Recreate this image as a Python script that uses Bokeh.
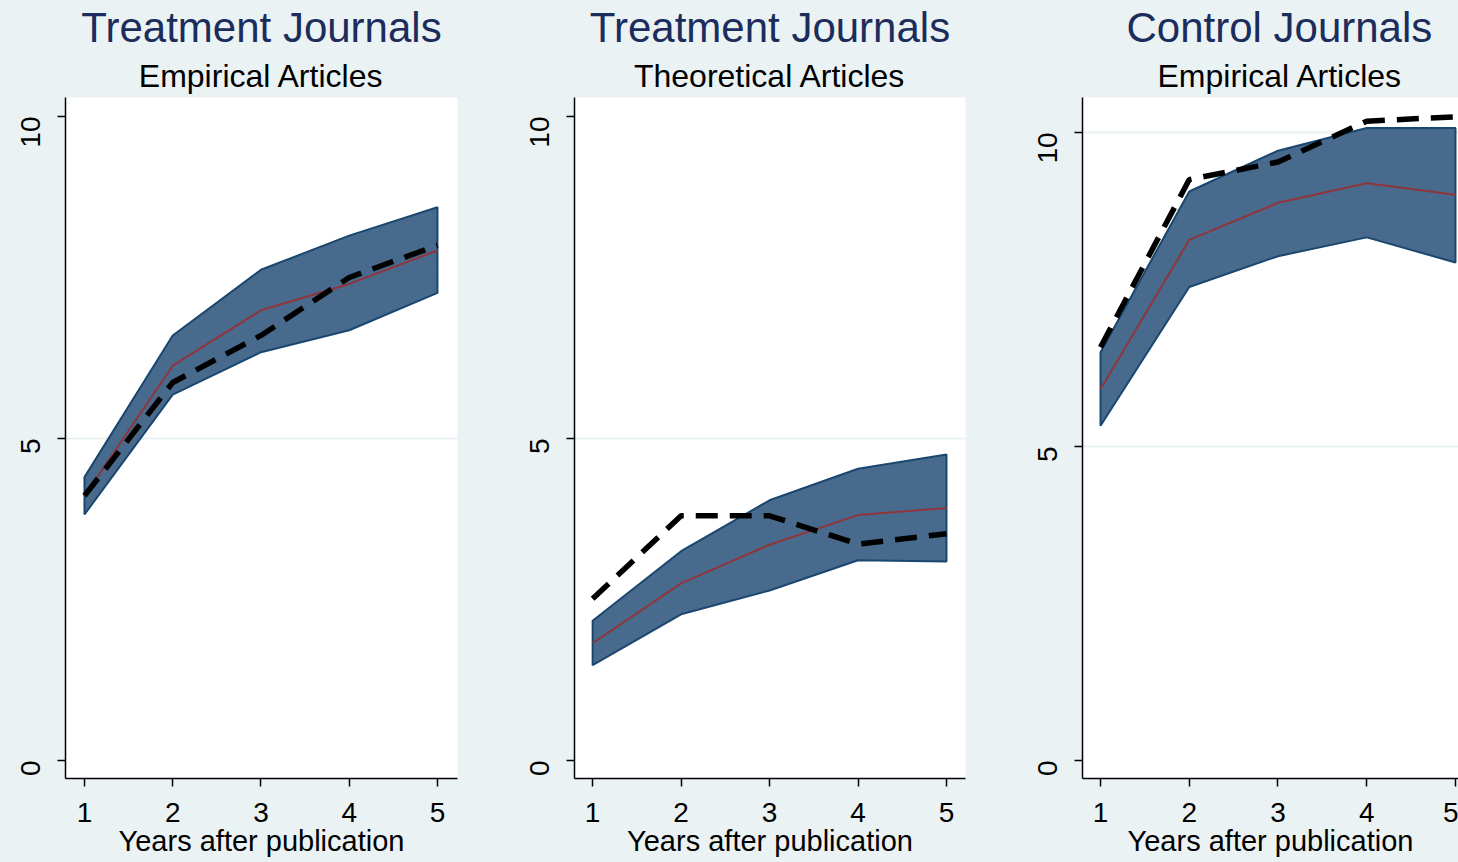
from bokeh.plotting import figure
from bokeh.layouts import row
from bokeh.models import Title, FixedTicker, Range1d
from bokeh.embed import file_html
from bokeh.resources import INLINE
import math

years = [1, 2, 3, 4, 5]
x_ticks = [1, 2, 3, 4, 5]
y_ticks = [0, 5, 10]

titles = ["Treatment Journals", "Treatment Journals", "Control Journals"]
subtitles = ["Empirical Articles", "Theoretical Articles", "Empirical Articles"]
x_label = "Years after publication"

# Panel 1: Treatment journals, empirical articles
p1_upper = [4.40, 6.60, 7.62, 8.15, 8.59]
p1_lower = [3.82, 5.68, 6.34, 6.68, 7.26]
p1_pred = [4.11, 6.13, 6.99, 7.40, 7.92]
p1_actual = [4.11, 5.87, 6.60, 7.50, 8.00]

# Panel 2: Treatment journals, theoretical articles
p2_upper = [2.17, 3.25, 4.04, 4.53, 4.75]
p2_lower = [1.48, 2.27, 2.64, 3.11, 3.09]
p2_pred = [1.82, 2.75, 3.35, 3.81, 3.92]
p2_actual = [2.51, 3.80, 3.80, 3.36, 3.52]

# Panel 3: Control journals, empirical articles
p3_upper = [6.50, 9.06, 9.71, 10.07, 10.07]
p3_lower = [5.33, 7.54, 8.03, 8.33, 7.93]
p3_pred = [5.91, 8.29, 8.88, 9.19, 9.01]
p3_actual = [6.58, 9.25, 9.53, 10.18, 10.25]

BG = "#EAF2F3"
TITLE_COLOR = "#1c2c5c"
BAND_FILL = "#486a8c"
BAND_LINE = "#1a476f"
RED = "#90353b"
FONT = "Liberation Sans"


def make_panel(title, subtitle, upper, lower, pred, actual, width, left, right,
               xr, yr, grid_ticks, title_offsets=None):
    p = figure(width=width, height=862, output_backend="svg", toolbar_location=None,
               x_range=Range1d(*xr), y_range=Range1d(*yr),
               min_border_left=left, min_border_right=right,
               min_border_top=97, min_border_bottom=84)
    p.background_fill_color = "white"
    p.border_fill_color = BG
    p.outline_line_color = None

    if title_offsets is None:
        sub = Title(text=subtitle, align="center", text_font=FONT, text_font_size="32px",
                    text_color="black", text_font_style="normal", standoff=7)
        main = Title(text=title, align="center", text_font=FONT, text_font_size="42px",
                     text_color=TITLE_COLOR, text_font_style="normal", standoff=3)
    else:
        sub = Title(text=subtitle, align="left", offset=title_offsets[1], text_font=FONT,
                    text_font_size="32px", text_color="black", text_font_style="normal", standoff=7)
        main = Title(text=title, align="left", offset=title_offsets[0], text_font=FONT,
                     text_font_size="42px", text_color=TITLE_COLOR, text_font_style="normal", standoff=3)
    p.add_layout(sub, "above")
    p.add_layout(main, "above")

    # band
    xs = years + years[::-1]
    ys = list(upper) + list(lower)[::-1]
    p.patch(xs, ys, fill_color=BAND_FILL, line_color=BAND_LINE, line_width=2)
    p.line(years, pred, line_color=RED, line_width=2)
    p.line(years, actual, line_color="black", line_width=5.5, line_dash="22 12")

    p.xgrid.visible = False
    p.ygrid.ticker = FixedTicker(ticks=grid_ticks)
    p.ygrid.grid_line_color = BG
    p.ygrid.grid_line_width = 2

    for ax in (p.xaxis[0], p.yaxis[0]):
        ax.axis_line_color = "black"
        ax.axis_line_width = 1.5
        ax.major_tick_line_color = "black"
        ax.major_tick_line_width = 1.5
        ax.major_tick_in = 0
        ax.major_tick_out = 8
        ax.minor_tick_line_color = None
        ax.major_label_text_font = FONT
        ax.major_label_text_font_size = "28px"
        ax.major_label_text_color = "black"

    p.xaxis.ticker = FixedTicker(ticks=x_ticks)
    p.xaxis.axis_label = x_label
    p.xaxis.axis_label_text_font = FONT
    p.xaxis.axis_label_text_font_size = "29px"
    p.xaxis.axis_label_text_font_style = "normal"
    p.xaxis.axis_label_text_color = "black"
    p.xaxis.major_label_standoff = 16
    p.xaxis.axis_label_standoff = 0

    p.yaxis.ticker = FixedTicker(ticks=y_ticks)
    p.yaxis.major_label_orientation = math.pi / 2
    p.yaxis.major_label_standoff = 27
    return p


p1 = make_panel(titles[0], subtitles[0], p1_upper, p1_lower, p1_pred, p1_actual,
                width=510, left=65, right=53, xr=(0.785, 5.227), yr=(-0.28, 10.295),
                grid_ticks=[5])
p2 = make_panel(titles[1], subtitles[1], p2_upper, p2_lower, p2_pred, p2_actual,
                width=508, left=64, right=53, xr=(0.795, 5.215), yr=(-0.28, 10.295),
                grid_ticks=[5])
p3 = make_panel(titles[2], subtitles[2], p3_upper, p3_lower, p3_pred, p3_actual,
                width=440, left=64, right=0, xr=(0.797, 5.034), yr=(-0.287, 10.557),
                grid_ticks=[5, 10], title_offsets=(44, 75))

layout = row(p1, p2, p3, styles={"background-color": BG})
layout.spacing = 0
open("out.html", "w").write(file_html(layout, INLINE))
